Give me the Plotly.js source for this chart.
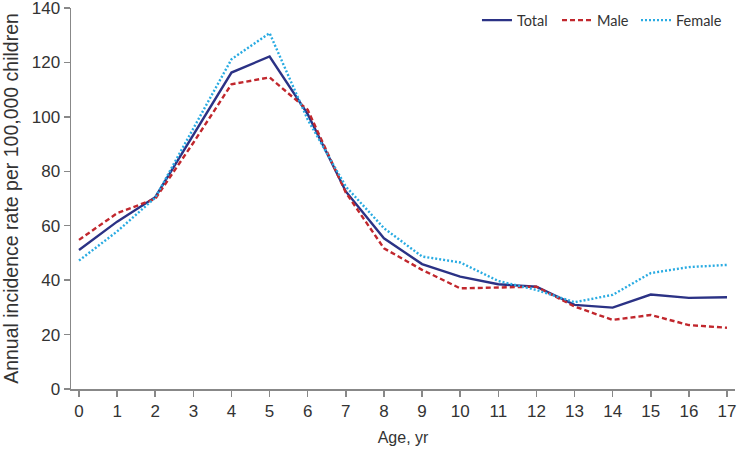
<!DOCTYPE html>
<html>
<head>
<meta charset="utf-8">
<script src="https://cdn.plot.ly/plotly-3.0.1.min.js"></script>
<style>html,body{margin:0;padding:0;background:#fff;}#chart{width:739px;height:449px;}</style>
</head>
<body>
<div id="chart"></div>
<script>
var ages = [0,1,2,3,4,5,6,7,8,9,10,11,12,13,14,15,16,17];
var totalRate = [51.1,61.5,70.5,93.2,116.3,122.2,101.0,72.6,55.4,45.9,41.3,38.5,37.6,30.9,29.9,34.7,33.5,33.7];
var maleRate = [54.8,64.6,69.9,90.5,112.0,114.5,102.6,72.2,51.7,43.8,37.0,37.4,37.6,30.3,25.4,27.2,23.5,22.5];
var femaleRate = [47.2,57.9,70.3,96.0,121.2,130.8,99.0,74.4,59.1,48.7,46.5,39.7,36.4,31.9,34.6,42.6,44.8,45.6];
var yTicks = [0,20,40,60,80,100,120,140];
var seriesNames = ["Total","Male","Female"];

var traces = [
  {x: ages, y: totalRate, name: seriesNames[0], type: "scatter", mode: "lines", legend: "legend",
   line: {color: "#2b3285", width: 2.4, dash: "solid"}},
  {x: ages, y: maleRate, name: seriesNames[1], type: "scatter", mode: "lines", legend: "legend2",
   line: {color: "#c1272d", width: 2.4, dash: "5px,3px"}},
  {x: ages, y: femaleRate, name: seriesNames[2], type: "scatter", mode: "lines", legend: "legend3",
   line: {color: "#29abe2", width: 2.4, dash: "2px,2px"}}
];

var tickFont = {family: "Liberation Sans Narrow, Liberation Sans, Arial, sans-serif", size: 17, color: "#333"};
function legendAt(xp) {
  return {orientation: "h", x: xp, xanchor: "left", y: 1.01, yanchor: "top",
          font: {family: "Lato, Noto Sans, sans-serif", size: 14.5, color: "#333"},
          bgcolor: "rgba(0,0,0,0)", itemwidth: 30};
}
var layout = {
  width: 739, height: 449,
  margin: {l: 71, r: 4, t: 8, b: 60, autoexpand: false},
  paper_bgcolor: "#fff", plot_bgcolor: "#fff",
  showlegend: true,
  legend: legendAt(0.6114),
  legend2: legendAt(0.7319),
  legend3: legendAt(0.8509),
  xaxis: {range: [-0.21, 17.21], tickvals: ages, ticktext: ages.map(String),
          showgrid: false, zeroline: false, showline: true, linecolor: "#888", linewidth: 1.5,
          ticks: "outside", ticklen: 6, tickcolor: "#888", tickwidth: 1.5,
          tickfont: tickFont, ticklabeloverflow: "allow", automargin: false,
          title: {text: "Age, yr", font: {family: "Liberation Sans, Arial, sans-serif", size: 16, color: "#333"}, standoff: 12}},
  yaxis: {range: [0, 140.02], tickvals: yTicks, ticktext: yTicks.map(String),
          showgrid: false, zeroline: false, showline: true, linecolor: "#888", linewidth: 1.5,
          ticks: "outside", ticklen: 6, tickcolor: "#888", tickwidth: 1.5,
          tickfont: tickFont, ticklabeloverflow: "allow", automargin: false,
          title: {text: "Annual incidence rate per 100,000 children", font: {family: "Liberation Sans, Arial, sans-serif", size: 19.5, color: "#333"}, standoff: 8}}
};
Plotly.newPlot("chart", traces, layout, {displayModeBar: false, staticPlot: true});
</script>
</body>
</html>
